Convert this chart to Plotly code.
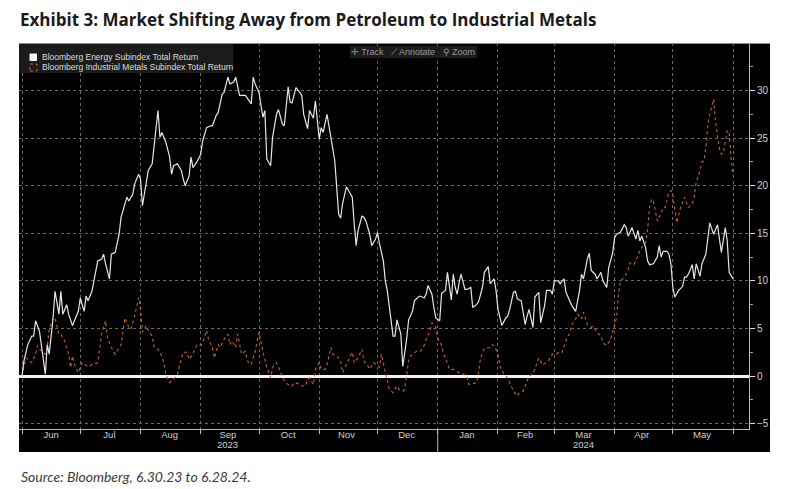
import plotly.graph_objects as go

title_text = "Exhibit 3: Market Shifting Away from Petroleum to Industrial Metals"
source_text = "Source: Bloomberg, 6.30.23 to 6.28.24."
energy_name = "Bloomberg Energy Subindex Total Return"
metals_name = "Bloomberg Industrial Metals Subindex Total Return"
toolbar_text = "✛ Track   ⟋ Annotate   ⚲ Zoom"

month_starts = ["2023-06-01", "2023-07-01", "2023-08-01", "2023-09-01", "2023-10-01",
                "2023-11-01", "2023-12-01", "2024-01-01", "2024-02-01", "2024-03-01",
                "2024-04-01", "2024-05-01", "2024-06-01"]
month_mids = ["2023-06-16", "2023-07-16", "2023-08-16", "2023-09-15", "2023-10-16",
              "2023-11-15", "2023-12-16", "2024-01-16", "2024-02-15", "2024-03-16",
              "2024-04-15", "2024-05-16"]
month_labels = ["Jun", "Jul", "Aug", "Sep", "Oct", "Nov", "Dec",
                "Jan", "Feb", "Mar", "Apr", "May"]
year_labels = ["2023", "2024"]
year_label_dates = ["2023-09-15", "2024-03-16"]
year_break = "2024-01-01"
y_ticks = [-5, 0, 5, 10, 15, 20, 25, 30]

energy_dates = (
    ["2023-06-%02d" % d for d in [1, 2, 4, 6, 7, 8, 10, 11, 13, 14, 15, 17, 18, 20, 21, 22, 24, 25, 27, 28, 30]]
    + ["2023-07-%02d" % d for d in [1, 3, 4, 5, 7, 8, 10, 12, 13, 14, 16, 17, 19, 21, 22, 25, 26, 28, 29, 31]]
    + ["2023-08-%02d" % d for d in [1, 2, 4, 5, 7, 8, 10, 11, 12, 14, 16, 17, 18, 20, 22, 23, 24, 26, 27, 28, 30]]
    + ["2023-09-%02d" % d for d in [1, 2, 4, 6, 7, 9, 10, 12, 13, 15, 16, 18, 19, 21, 24, 27, 28, 29]]
    + ["2023-10-%02d" % d for d in [1, 3, 4, 5, 7, 8, 10, 11, 13, 14, 16, 17, 18, 20, 22, 23, 24, 26, 27, 29, 30]]
    + ["2023-11-%02d" % d for d in [1, 2, 3, 5, 6, 7, 9, 10, 11, 12, 13, 15, 17, 18, 19, 20, 21, 23, 24, 25, 27, 28, 30]]
    + ["2023-12-%02d" % d for d in [1, 2, 4, 5, 6, 7, 9, 10, 11, 13, 14, 16, 17, 19, 20, 22, 23, 25, 26, 27, 29, 30, 31]]
    + ["2024-01-%02d" % d for d in [2, 3, 5, 6, 8, 9, 10, 11, 12, 13, 15, 16, 18, 19, 21, 22, 24, 25, 27, 28, 30, 31]]
    + ["2024-02-%02d" % d for d in [1, 3, 5, 6, 7, 9, 10, 11, 13, 14, 15, 16, 17, 19, 20, 22, 23, 25, 26, 28, 29]]
    + ["2024-03-%02d" % d for d in [1, 3, 4, 6, 7, 9, 10, 12, 14, 15, 16, 18, 19, 20, 22, 23, 25, 26, 28, 29, 31]]
    + ["2024-04-%02d" % d for d in [1, 2, 4, 6, 7, 8, 10, 12, 13, 14, 15, 17, 18, 19, 21, 23, 24, 25, 26, 28, 29, 30]]
    + ["2024-05-%02d" % d for d in [1, 2, 4, 6, 7, 8, 9, 11, 12, 13, 15, 16, 18, 19, 20, 22, 24, 25, 26, 28, 29, 30]]
    + ["2024-06-01"]
)
energy_values = [
    0.0, 1.6, 3.3, 4.2, 4.2, 5.8, 4.7, 3.0, 0.2, 3.3, 2.3, 6.1, 8.9, 6.5, 8.9, 6.5, 7.5, 6.5, 5.3, 5.8, 6.8,
    8.2, 6.8, 8.4, 7.9, 8.9, 10.0, 12.1, 12.3, 12.8, 11.8, 10.2, 12.8, 13.0, 14.9, 16.7, 18.8, 18.4, 19.1, 20.2, 21.2,
    20.7, 17.9, 20.5, 21.6, 22.3, 24.0, 27.9, 25.1, 25.6, 24.6, 23.0, 21.2, 22.1, 22.3, 21.6, 20.7, 20.0, 21.0, 23.0, 21.9, 22.5,
    23.3, 24.7, 26.1, 26.3, 26.3, 27.4, 27.7, 29.6, 29.8, 31.4, 30.7, 30.9, 31.4, 29.5, 29.5, 28.6, 31.4, 30.7,
    29.8, 27.2, 27.9, 22.8, 22.1, 25.1, 27.5, 28.0, 26.5, 26.3, 30.4, 28.8, 28.7, 30.3, 29.8, 29.5, 27.5, 26.0, 27.9, 27.1, 28.9,
    24.9, 26.1, 25.6, 27.5, 26.3, 24.9, 22.6, 19.8, 17.0, 16.6, 18.1, 19.9, 19.1, 18.8, 16.0, 13.7, 15.3, 16.8, 16.7, 16.3, 14.9, 13.7, 14.4,
    15.1, 13.9, 12.1, 10.0, 9.0, 7.4, 4.2, 4.2, 5.9, 4.4, 1.0, 3.9, 5.9, 6.8, 7.9, 8.3, 8.4, 8.2, 8.6, 9.5, 8.6, 7.2, 6.1,
    5.8, 8.7, 9.0, 10.9, 8.0, 10.7, 9.3, 8.6, 9.8, 10.7, 9.1, 9.1, 9.3, 7.2, 7.5, 7.8, 9.3, 10.9, 11.5, 9.7, 10.2, 9.0,
    7.0, 5.3, 6.1, 6.3, 7.0, 8.8, 8.9, 8.1, 7.9, 6.5, 5.4, 6.3, 7.0, 5.1, 8.3, 8.8, 5.6, 7.4, 9.0, 9.0, 8.6,
    10.0, 10.0, 9.7, 10.2, 8.8, 7.8, 7.4, 6.8, 9.0, 10.7, 10.2, 12.3, 12.9, 11.1, 10.7, 10.2, 10.9, 10.0, 9.3, 11.4, 12.9,
    14.5, 14.9, 15.1, 15.9, 15.6, 14.7, 15.6, 14.4, 15.3, 14.2, 14.7, 13.5, 12.1, 11.7, 11.8, 12.5, 13.7, 12.5, 13.1, 13.1, 12.8, 11.8,
    9.3, 8.3, 9.0, 9.4, 10.4, 10.4, 10.7, 11.7, 10.2, 11.8, 10.5, 11.8, 12.8, 14.6, 16.1, 14.9, 15.9, 14.4, 13.0, 15.6, 14.2, 10.9,
    10.2,
]

metals_dates = (
    ["2023-06-%02d" % d for d in [1, 3, 4, 6, 8, 9, 11, 13, 14, 15, 17, 18, 20, 21, 23, 25, 26, 27, 28, 30]]
    + ["2023-07-%02d" % d for d in [2, 3, 5, 7, 9, 10, 12, 14, 15, 17, 19, 21, 22, 24, 26, 27, 29, 31]]
    + ["2023-08-%02d" % d for d in [1, 2, 4, 5, 7, 8, 10, 11, 13, 14, 16, 18, 20, 21, 23, 25, 26, 28, 30]]
    + ["2023-09-%02d" % d for d in [1, 2, 4, 5, 7, 8, 10, 11, 13, 15, 16, 17, 19, 20, 22, 24, 25, 27, 29]]
    + ["2023-10-%02d" % d for d in [1, 3, 5, 7, 8, 10, 11, 13, 14, 16, 18, 19, 21, 23, 25, 26, 27, 29, 30]]
    + ["2023-11-%02d" % d for d in [1, 2, 4, 5, 7, 8, 10, 12, 13, 15, 17, 18, 19, 21, 23, 24, 26, 27, 29, 30]]
    + ["2023-12-%02d" % d for d in [2, 3, 4, 6, 7, 9, 11, 12, 14, 15, 17, 18, 20, 21, 23, 25, 26, 28, 29, 31]]
    + ["2024-01-%02d" % d for d in [1, 3, 4, 6, 7, 9, 11, 12, 14, 16, 17, 19, 21, 22, 23, 25, 27, 28, 29, 30]]
    + ["2024-02-%02d" % d for d in [1, 2, 4, 6, 7, 9, 11, 12, 14, 15, 17, 19, 21, 22, 24, 26, 27, 29]]
    + ["2024-03-%02d" % d for d in [2, 4, 5, 7, 9, 10, 12, 13, 15, 16, 18, 20, 21, 23, 25, 26, 28, 30, 31]]
    + ["2024-04-%02d" % d for d in [2, 3, 4, 6, 8, 9, 11, 13, 14, 15, 17, 18, 19, 20, 21, 23, 24, 26, 27, 29, 30]]
    + ["2024-05-%02d" % d for d in [1, 2, 3, 5, 6, 7, 9, 11, 12, 13, 15, 16, 17, 18, 19, 20, 22, 23, 25, 26, 27, 29, 30, 31]]
    + ["2024-06-01"]
)
metals_values = [
    0.0, 1.9, 1.75, 1.4, 2.3, 3.2, 2.6, 2.3, 3.0, 4.9, 6.1, 6.1, 4.4, 4.4, 3.7, 2.3, 0.9, 2.1, 1.2, 0.35,
    1.4, 1.3, 0.95, 1.2, 1.3, 1.4, 4.4, 5.8, 4.0, 3.0, 2.3, 3.0, 3.3, 6.1, 5.1, 4.9, 6.3, 8.25,
    7.0, 4.6, 5.3, 4.8, 4.2, 3.0, 2.8, 2.6, 1.4, 0.2, -0.7, -0.35, 0.2, 1.05, 2.5, 2.5, 1.75, 2.3, 3.3,
    3.2, 3.5, 4.8, 3.85, 3.0, 1.9, 3.3, 3.0, 3.85, 4.4, 3.3, 3.7, 3.0, 4.4, 2.3, 2.6, 1.6, 1.2, 2.6,
    4.6, 2.6, 0.9, -0.2, 0.9, 1.4, 0.9, 0.0, -0.5, -0.9, -1.05, -0.7, -0.8, -1.05, -1.05, -0.35, -0.2, -0.9, 0.7,
    1.4, 0.7, 0.7, 1.2, 3.0, 2.3, 2.1, 1.6, 0.35, 1.2, 1.9, 2.5, 1.4, 1.9, 2.8, 1.6, 1.05, 0.7, 1.4, 1.2,
    0.9, 2.3, 1.4, -0.2, -1.4, -1.75, -1.05, -1.4, -1.6, -1.4, 1.6, 2.1, 2.5, 2.6, 2.6, 3.2, 3.85, 4.7, 5.6, 5.1,
    4.0, 3.2, 2.3, 1.4, 0.7, 0.7, 0.5, 0.35, 0.2, 0.0, -0.9, -0.8, -0.7, 0.35, 1.9, 2.9, 3.0, 3.0, 3.3, 3.2,
    2.3, 1.05, 0.2, -0.2, -0.7, -1.6, -2.1, -1.75, -1.6, -1.05, 0.0, 0.2, 1.2, 1.9, 1.16, 1.4, 1.6, 2.3,
    2.3, 2.6, 2.5, 3.7, 4.6, 5.4, 6.0, 6.5, 6.0, 6.7, 5.4, 5.1, 5.25, 4.6, 4.2, 3.5, 3.2, 3.85, 4.7,
    6.1, 8.6, 10.0, 10.35, 11.2, 11.9, 11.7, 12.6, 13.2, 13.5, 14.0, 15.3, 17.7, 18.6, 18.4, 16.3, 16.7, 17.7, 17.7, 19.3, 19.5,
    19.0, 17.7, 16.1, 17.7, 18.25, 18.8, 17.7, 18.1, 18.8, 20.35, 21.6, 22.5, 22.6, 24.0, 26.3, 27.5, 29.1, 26.7, 23.9, 23.3, 23.5, 25.8, 25.6, 22.8,
    21.1,
]

ENERGY_COLOR = "#e6e6e6"
METALS_COLOR = "#c8632e"
GRID = "#666666"
AXIS_TXT = "#cfcfcf"
FONT = "Liberation Sans"

fig = go.Figure()
fig.add_trace(go.Scatter(x=metals_dates, y=metals_values, mode="lines", name=metals_name,
                         line=dict(color=METALS_COLOR, width=1.1, dash="dot"), showlegend=False))
fig.add_trace(go.Scatter(x=energy_dates, y=energy_values, mode="lines", name=energy_name,
                         line=dict(color=ENERGY_COLOR, width=1.2), showlegend=False))

# The page body adds an 8px margin; the figure is sized so it fits the 800x489 window.
OFF = 8
W, H = 800 - OFF, 489 - OFF
PL, PR, PT, PB = 19, 749, 43, 429          # plot-area edges in window pixels
L, R, T, B = PL - OFF, W - (PR - OFF), PT - OFF, H - (PB - OFF)
pw, ph = PR - PL, PB - PT


def px_x(x):
    return (x - PL) / pw


def px_y(y):
    return (PB - y) / ph


shapes = [
    dict(type="rect", xref="paper", yref="paper", x0=px_x(19), x1=px_x(770), y0=px_y(452), y1=px_y(43),
         fillcolor="black", line=dict(width=0), layer="below"),
    dict(type="line", xref="paper", yref="paper", x0=px_x(19), x1=px_x(770), y0=px_y(43.5), y1=px_y(43.5),
         line=dict(color="#8a8a8a", width=1), layer="above"),
    # legend box
    dict(type="rect", xref="paper", yref="paper", x0=px_x(19), x1=px_x(233), y0=px_y(73), y1=px_y(44),
         fillcolor="#1b1b1b", line=dict(width=0), layer="above"),
    dict(type="rect", xref="paper", yref="paper", x0=px_x(29.5), x1=px_x(37), y0=px_y(61), y1=px_y(53.5),
         fillcolor="#f2f2f2", line=dict(width=0), layer="above"),
    dict(type="rect", xref="paper", yref="paper", x0=px_x(30), x1=px_x(37), y0=px_y(71), y1=px_y(64),
         fillcolor="rgba(0,0,0,0)", line=dict(color=METALS_COLOR, width=1, dash="dot"), layer="above"),
    # toolbar
    dict(type="rect", xref="paper", yref="paper", x0=px_x(350), x1=px_x(477), y0=px_y(58), y1=px_y(46),
         fillcolor="#1c1c1c", line=dict(width=0), layer="above"),
    # year separator
    dict(type="line", xref="x", yref="paper", x0=year_break, x1=year_break, y0=0, y1=px_y(452),
         line=dict(color="#bbbbbb", width=1), layer="above"),
]

annotations = [
    dict(text="<b>" + title_text + "</b>", xref="paper", yref="paper", x=px_x(18), y=px_y(19),
         xanchor="left", yanchor="middle", showarrow=False,
         font=dict(family="Open Sans", size=17, color="#1a1a1a")),
    dict(text="<i>" + source_text + "</i>", xref="paper", yref="paper", x=px_x(19), y=px_y(476),
         xanchor="left", yanchor="middle", showarrow=False,
         font=dict(family="Lato", size=14, color="#3a3a3a")),
    dict(text=energy_name, xref="paper", yref="paper", x=px_x(40), y=px_y(57),
         xanchor="left", yanchor="middle", showarrow=False,
         font=dict(family=FONT, size=8.5, color="#dddddd")),
    dict(text=metals_name, xref="paper", yref="paper", x=px_x(40), y=px_y(66.5),
         xanchor="left", yanchor="middle", showarrow=False,
         font=dict(family=FONT, size=8.5, color="#dddddd")),
    dict(text=toolbar_text, xref="paper", yref="paper", x=px_x(413), y=px_y(52),
         xanchor="center", yanchor="middle", showarrow=False,
         font=dict(family=FONT, size=9, color="#9a9a9a")),
]
for lab, d in zip(year_labels, year_label_dates):
    annotations.append(dict(text=lab, xref="x", yref="paper", x=d, y=px_y(444.5),
                            xanchor="center", yanchor="middle", showarrow=False,
                            font=dict(family=FONT, size=9.5, color=AXIS_TXT)))

fig.update_layout(
    width=W, height=H,
    margin=dict(l=L, r=R, t=T, b=B, pad=0),
    paper_bgcolor="white", plot_bgcolor="black",
    showlegend=False,
    shapes=shapes, annotations=annotations,
    xaxis=dict(
        type="date", range=["2023-05-30 11:00", "2024-06-09 05:00"],
        tickmode="array", tickvals=month_mids, ticktext=month_labels,
        ticks="", showgrid=False, zeroline=False, ticklabelstandoff=-3,
        showline=True, linecolor="#bbbbbb", linewidth=1,
        tickfont=dict(family=FONT, size=9.5, color=AXIS_TXT),
        minor=dict(tickmode="array", tickvals=month_starts, ticks="outside", ticklen=4,
                   tickcolor="#bbbbbb", showgrid=True, gridcolor=GRID, griddash="dot", gridwidth=1),
        fixedrange=True,
    ),
    yaxis=dict(
        side="right", range=[-5.57, 35.0],
        tickmode="array", tickvals=y_ticks,
        ticks="outside", ticklen=5, tickcolor="#dddddd",
        showline=True, linecolor="#bbbbbb", linewidth=1,
        showgrid=True, gridcolor=GRID, griddash="dot", gridwidth=1,
        zeroline=True, zerolinecolor="#f2f2f2", zerolinewidth=2.5,
        tickfont=dict(family=FONT, size=10, color=AXIS_TXT),
        minor=dict(tickmode="linear", tick0=-5, dtick=2.5, ticks="outside", ticklen=3,
                   tickcolor="#999999", showgrid=False),
        fixedrange=True,
    ),
)

fig.write_html("out.html")
